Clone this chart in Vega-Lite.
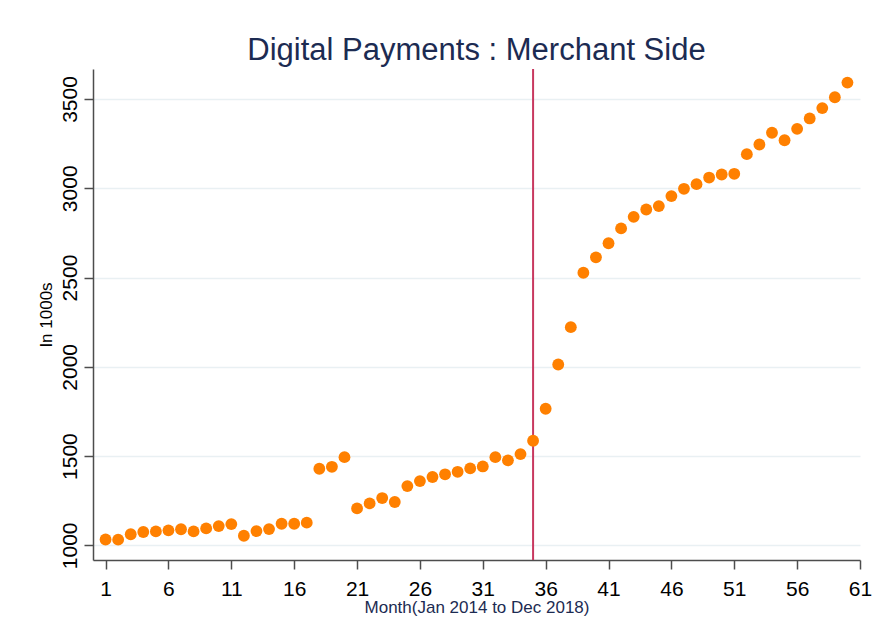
{
  "$schema": "https://vega.github.io/schema/vega-lite/v6.json",
  "width": 767,
  "height": 491,
  "autosize": {"type": "none"},
  "padding": {"left": 93, "top": 69, "right": 12, "bottom": 77},
  "background": "white",
  "title": {
    "text": "Digital Payments : Merchant Side",
    "font": "Liberation Sans",
    "fontSize": 31,
    "fontWeight": "normal",
    "color": "#1c2b52",
    "anchor": "middle",
    "baseline": "alphabetic",
    "offset": -23
  },
  "config": {
    "view": {"stroke": null},
    "axis": {
      "labelFont": "Liberation Sans",
      "titleFont": "Liberation Sans",
      "labelColor": "#000000",
      "domainColor": "#4d4d4d",
      "tickColor": "#4d4d4d",
      "domainWidth": 1.5,
      "tickWidth": 1.5,
      "tickSize": 9,
      "titleFontWeight": "normal"
    }
  },
  "layer": [
    {
      "data": {"values": [{"event_month": 35}]},
      "mark": {"type": "rule", "color": "#c8385f", "strokeWidth": 2},
      "encoding": {
        "x": {"field": "event_month", "type": "quantitative"}
      }
    },
    {
      "data": {
        "values": [
          {"month": 1, "value": 1033}, {"month": 2, "value": 1032}, {"month": 3, "value": 1062},
          {"month": 4, "value": 1075}, {"month": 5, "value": 1078}, {"month": 6, "value": 1084},
          {"month": 7, "value": 1090}, {"month": 8, "value": 1078}, {"month": 9, "value": 1095},
          {"month": 10, "value": 1108}, {"month": 11, "value": 1119}, {"month": 12, "value": 1054},
          {"month": 13, "value": 1080}, {"month": 14, "value": 1091}, {"month": 15, "value": 1121},
          {"month": 16, "value": 1121}, {"month": 17, "value": 1127}, {"month": 18, "value": 1429},
          {"month": 19, "value": 1440}, {"month": 20, "value": 1494}, {"month": 21, "value": 1207},
          {"month": 22, "value": 1235}, {"month": 23, "value": 1265}, {"month": 24, "value": 1243},
          {"month": 25, "value": 1332}, {"month": 26, "value": 1360}, {"month": 27, "value": 1383},
          {"month": 28, "value": 1398}, {"month": 29, "value": 1412}, {"month": 30, "value": 1431},
          {"month": 31, "value": 1442}, {"month": 32, "value": 1494}, {"month": 33, "value": 1476},
          {"month": 34, "value": 1511}, {"month": 35, "value": 1586}, {"month": 36, "value": 1765},
          {"month": 37, "value": 2013}, {"month": 38, "value": 2222}, {"month": 39, "value": 2527},
          {"month": 40, "value": 2613}, {"month": 41, "value": 2692}, {"month": 42, "value": 2775},
          {"month": 43, "value": 2840}, {"month": 44, "value": 2881}, {"month": 45, "value": 2900},
          {"month": 46, "value": 2956}, {"month": 47, "value": 2997}, {"month": 48, "value": 3023},
          {"month": 49, "value": 3060}, {"month": 50, "value": 3077}, {"month": 51, "value": 3081},
          {"month": 52, "value": 3191}, {"month": 53, "value": 3245}, {"month": 54, "value": 3311},
          {"month": 55, "value": 3269}, {"month": 56, "value": 3333}, {"month": 57, "value": 3391},
          {"month": 58, "value": 3449}, {"month": 59, "value": 3510}, {"month": 60, "value": 3592}
        ]
      },
      "mark": {"type": "point", "filled": true, "opacity": 1, "size": 140, "color": "#ff8000", "strokeWidth": 0},
      "encoding": {
        "x": {
          "field": "month",
          "type": "quantitative",
          "scale": {"domain": [0, 61], "nice": false, "zero": false},
          "axis": {
            "title": "Month(Jan 2014 to Dec 2018)",
            "titleFontSize": 17,
            "titleColor": "#1c2b52",
            "titleBaseline": "alphabetic",
            "titlePadding": 13,
            "values": [1, 6, 11, 16, 21, 26, 31, 36, 41, 46, 51, 56, 61],
            "labelFontSize": 21,
            "labelPadding": 9,
            "labelFlush": false,
            "labelOverlap": false,
            "grid": false,
            "format": "d"
          }
        },
        "y": {
          "field": "value",
          "type": "quantitative",
          "scale": {"domain": [918, 3668], "nice": false, "zero": false},
          "axis": {
            "title": "In 1000s",
            "titleFontSize": 17,
            "titleColor": "#000000",
            "titleBaseline": "alphabetic",
            "titlePadding": 8,
            "values": [1000, 1500, 2000, 2500, 3000, 3500],
            "labelFontSize": 21,
            "labelAngle": 270,
            "labelAlign": "center",
            "labelBaseline": "alphabetic",
            "labelPadding": 8,
            "labelFlush": false,
            "labelOverlap": false,
            "grid": true,
            "gridColor": "#e9f0f3",
            "gridWidth": 1.5,
            "format": "d"
          }
        }
      }
    }
  ]
}
